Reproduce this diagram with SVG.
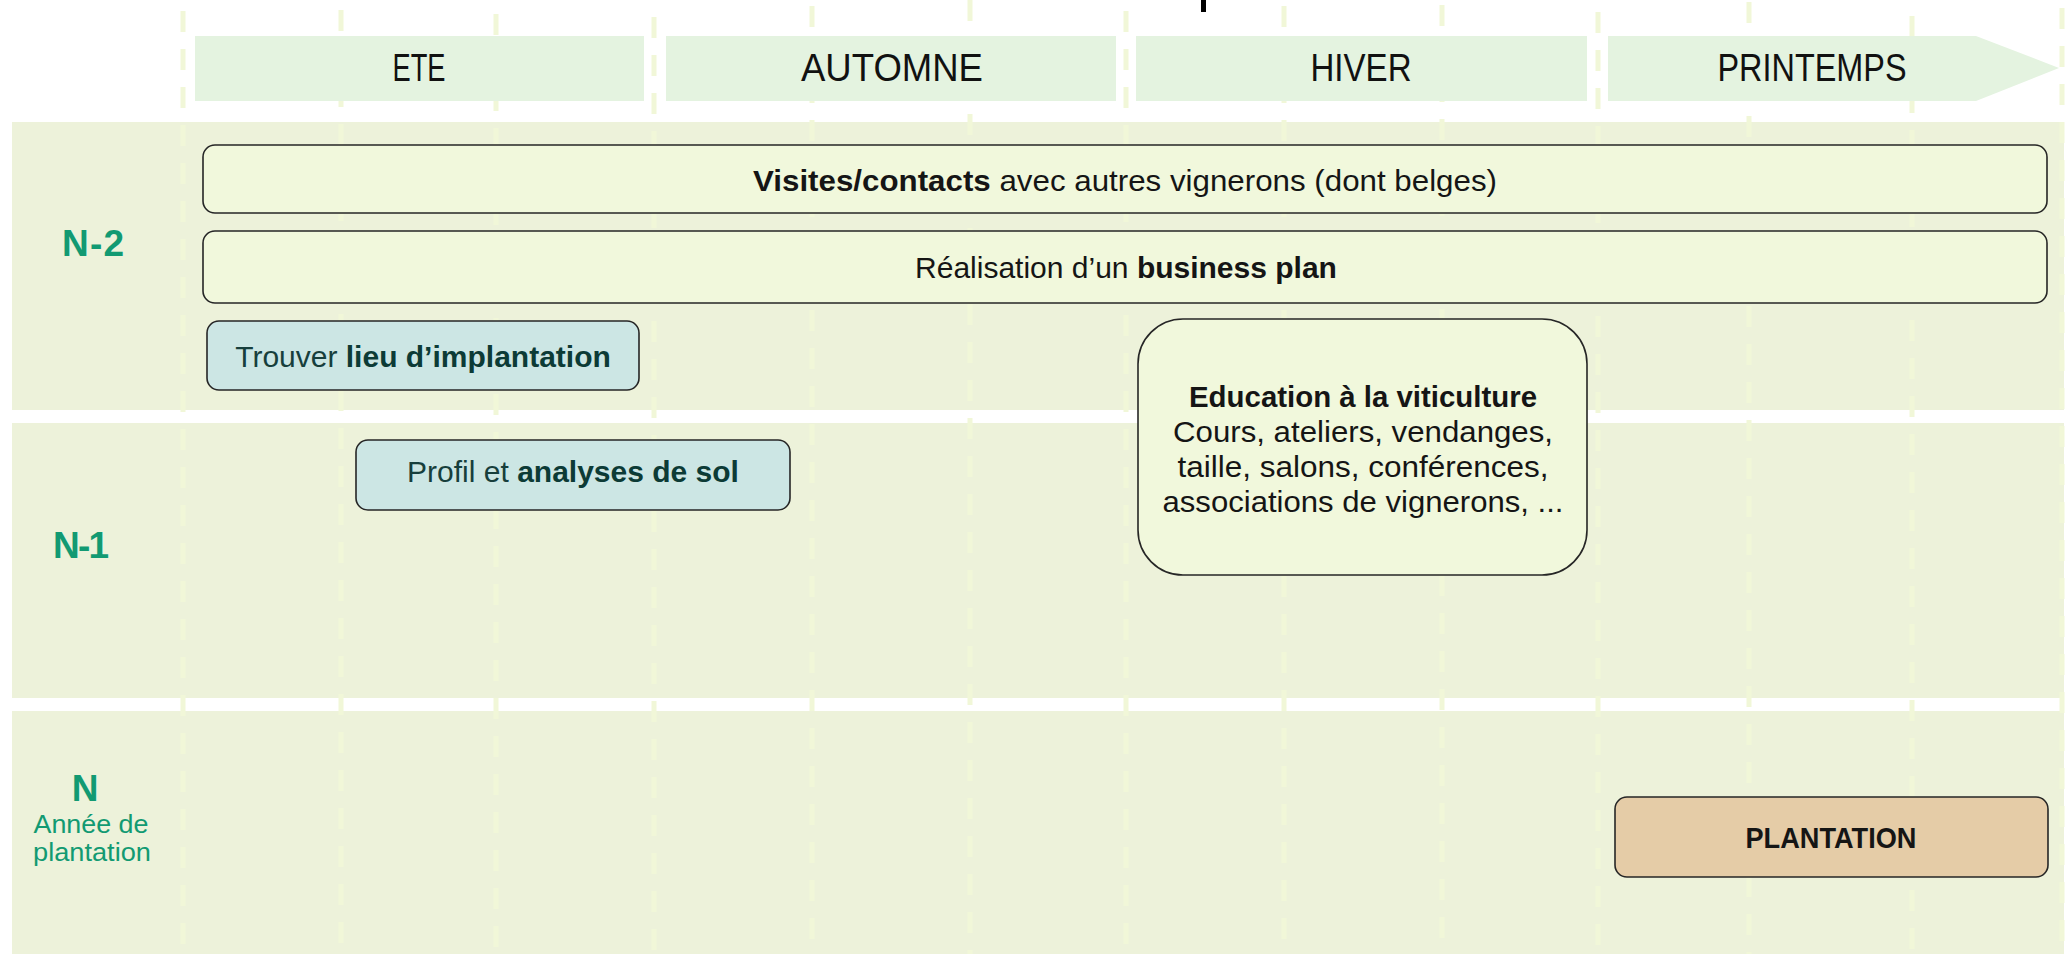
<svg xmlns="http://www.w3.org/2000/svg" width="2068" height="954" viewBox="0 0 2068 954">
  <style>
    text { font-family: "Liberation Sans", Arial, sans-serif; }
    .band { fill: #edf2da; }
    .grid line { stroke: #f1f7d8; stroke-width: 5; stroke-dasharray: 21 17; }
    .season { fill: #e4f3e0; }
    .season-t { font-size: 38px; fill: #111; text-anchor: middle; }
    .year { font-size: 37px; font-weight: bold; fill: #129a72; text-anchor: middle; }
    .year-sub { font-size: 25px; fill: #129a72; text-anchor: middle; }
    .node { stroke: #262626; stroke-width: 1.6; }
    .cream { fill: #f1f8dc; }
    .teal { fill: #cce6e4; }
    .tan { fill: #e5cca7; }
    .nt { font-size: 30px; fill: #151515; text-anchor: middle; }
    .nt-teal { font-size: 30px; fill: #173f3c; text-anchor: middle; }
    .b { font-weight: bold; }
    .bt { font-weight: bold; fill: #0c3b36; }
  </style>

  <g id="background">
    <rect class="band" x="12" y="122" width="2052" height="288"/>
    <rect class="band" x="12" y="423" width="2052" height="275"/>
    <rect class="band" x="12" y="711" width="2052" height="243"/>
    <rect x="1201" y="0" width="5" height="12" fill="#000"/>
  </g>

  <g id="grid" class="grid">
    <line x1="183" y1="11" x2="183" y2="954"/>
    <line x1="341" y1="10" x2="341" y2="954"/>
    <line x1="496" y1="14" x2="496" y2="954"/>
    <line x1="654" y1="17" x2="654" y2="954"/>
    <line x1="812" y1="6" x2="812" y2="954"/>
    <line x1="970" y1="0" x2="970" y2="954"/>
    <line x1="1126" y1="11" x2="1126" y2="954"/>
    <line x1="1284" y1="6" x2="1284" y2="954"/>
    <line x1="1442" y1="5" x2="1442" y2="954"/>
    <line x1="1598" y1="12" x2="1598" y2="954"/>
    <line x1="1749" y1="2" x2="1749" y2="954"/>
    <line x1="1912" y1="16" x2="1912" y2="954"/>
    <line x1="2062" y1="8" x2="2062" y2="954"/>
  </g>

  <g id="seasons">
    <g id="season-ete">
      <rect class="season" x="195" y="36" width="449" height="65"/>
      <text class="season-t" x="419" y="81" textLength="53" lengthAdjust="spacingAndGlyphs">ETE</text>
    </g>
    <g id="season-automne">
      <rect class="season" x="666" y="36" width="450" height="65"/>
      <text class="season-t" x="892" y="81" textLength="182" lengthAdjust="spacingAndGlyphs">AUTOMNE</text>
    </g>
    <g id="season-hiver">
      <rect class="season" x="1136" y="36" width="451" height="65"/>
      <text class="season-t" x="1361" y="81" textLength="101" lengthAdjust="spacingAndGlyphs">HIVER</text>
    </g>
    <g id="season-printemps">
      <polygon class="season" points="1608,36 1976,36 2059,68 1976,101 1608,101"/>
      <text class="season-t" x="1812" y="81" textLength="189" lengthAdjust="spacingAndGlyphs">PRINTEMPS</text>
    </g>
  </g>

  <g id="years">
    <g id="year-n2"><text class="year" x="93" y="256" textLength="62" lengthAdjust="spacing">N-2</text></g>
    <g id="year-n1"><text class="year" x="81" y="558" textLength="56" lengthAdjust="spacing">N-1</text></g>
    <g id="year-n">
      <text class="year" x="85" y="801">N</text>
      <text class="year-sub" x="91" y="833" textLength="115" lengthAdjust="spacingAndGlyphs">Année de</text>
      <text class="year-sub" x="92" y="861" textLength="118" lengthAdjust="spacingAndGlyphs">plantation</text>
    </g>
  </g>

  <g id="connectors"></g>

  <g id="node-visites">
    <rect class="node cream" x="203" y="145" width="1844" height="68" rx="12"/>
    <text class="nt" x="1125" y="191" textLength="744" lengthAdjust="spacingAndGlyphs"><tspan class="b">Visites/contacts</tspan> avec autres vignerons (dont belges)</text>
  </g>

  <g id="node-business">
    <rect class="node cream" x="203" y="231" width="1844" height="72" rx="12"/>
    <text class="nt" x="1126" y="278">Réalisation d’un <tspan class="b">business plan</tspan></text>
  </g>

  <g id="node-lieu">
    <rect class="node teal" x="207" y="321" width="432" height="69" rx="12"/>
    <text class="nt-teal" x="423" y="367">Trouver <tspan class="bt">lieu d’implantation</tspan></text>
  </g>

  <g id="node-sol">
    <rect class="node teal" x="356" y="440" width="434" height="70" rx="12"/>
    <text class="nt-teal" x="573" y="482">Profil et <tspan class="bt">analyses de sol</tspan></text>
  </g>

  <g id="node-education">
    <rect class="node cream" x="1138" y="319" width="449" height="256" rx="45"/>
    <text class="nt b" x="1363" y="407" textLength="348" lengthAdjust="spacingAndGlyphs">Education à la viticulture</text>
    <text class="nt" x="1363" y="442" textLength="380" lengthAdjust="spacingAndGlyphs">Cours, ateliers, vendanges,</text>
    <text class="nt" x="1363" y="477" textLength="371" lengthAdjust="spacingAndGlyphs">taille, salons, conférences,</text>
    <text class="nt" x="1363" y="512" textLength="401" lengthAdjust="spacingAndGlyphs">associations de vignerons, ...</text>
  </g>

  <g id="node-plantation">
    <rect class="node tan" x="1615" y="797" width="433" height="80" rx="12"/>
    <text class="nt b" x="1831" y="848" textLength="171" lengthAdjust="spacingAndGlyphs">PLANTATION</text>
  </g>
</svg>
